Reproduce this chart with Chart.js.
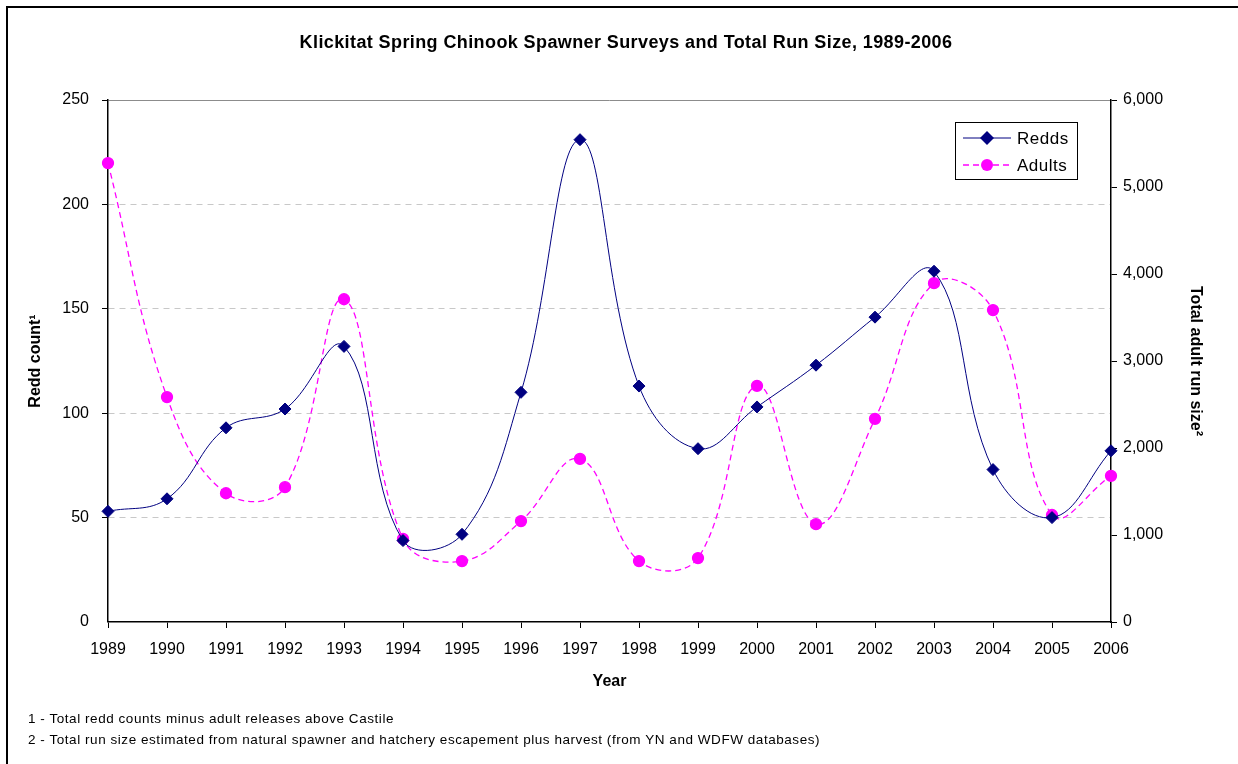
<!DOCTYPE html>
<html>
<head>
<meta charset="utf-8">
<script src="https://cdn.jsdelivr.net/npm/chart.js@4"></script>
<style>
  body { margin: 0; background: #fff; font-family: "Liberation Sans", Arial, sans-serif; }
  #wrap { position: relative; width: 1238px; height: 764px; overflow: hidden; }
  #frame { position: absolute; left: 6px; top: 6px; width: 1300px; height: 900px; border: 2px solid #000; }
  canvas { position: absolute; left: 0; top: 0; }
  .note { position: absolute; left: 28px; font-size: 13.5px; letter-spacing: 0.55px; color: #000; white-space: nowrap; }
</style>
</head>
<body>
<div id="wrap">
  <div id="frame"></div>
  <canvas id="chart" width="1238" height="764"></canvas>
  <div class="note" style="top:711px">1 - Total redd counts minus adult releases above Castile</div>
  <div class="note" style="top:732px">2 - Total run size estimated from natural spawner and hatchery escapement plus harvest (from YN and WDFW databases)</div>
</div>
<script>
// Survey years
const years = ["1989", "1990", "1991", "1992", "1993", "1994", "1995", "1996", "1997",
    "1998", "1999", "2000", "2001", "2002", "2003", "2004", "2005", "2006"];

// Redd counts (left axis)
const redds = [53, 59, 93, 102, 132, 39, 42, 110, 231, 113, 83, 103, 123, 146, 168, 73, 50, 82];

// Total adult run size (right axis)
const adults = [5275, 2585, 1480, 1550, 3710, 955, 700, 1160, 1875, 700, 735, 2715, 1125, 2335, 3895, 3585, 1230, 1680];

const chartTitle = "Klickitat Spring Chinook Spawner Surveys and Total Run Size, 1989-2006";

const FONT = "'Liberation Sans', Arial, sans-serif";

// title + boxed legend drawn on top of the chart
const decorations = {
    id: "decorations",
    afterDraw(chart) {
        const ctx = chart.ctx;
        ctx.save();
        ctx.fillStyle = "#000";
        ctx.font = "bold 18px " + FONT;
        ctx.letterSpacing = "0.4px";
        ctx.textAlign = "center";
        ctx.textBaseline = "middle";
        ctx.fillText(chartTitle, 626, 43);

        // legend box
        const bx = 955, by = 122, bw = 122, bh = 57;
        ctx.fillStyle = "#fff";
        ctx.fillRect(bx, by, bw, bh);
        ctx.strokeStyle = "#000";
        ctx.lineWidth = 1;
        ctx.setLineDash([]);
        ctx.strokeRect(bx + 0.5, by + 0.5, bw, bh);

        chart.data.datasets.forEach((ds, i) => {
            const y = by + 16 + i * 27;
            ctx.strokeStyle = ds.borderColor;
            ctx.lineWidth = ds.borderWidth;
            ctx.setLineDash(ds.borderDash || []);
            ctx.beginPath();
            ctx.moveTo(bx + 8, y);
            ctx.lineTo(bx + 56, y);
            ctx.stroke();
            ctx.setLineDash([]);
            ctx.fillStyle = ds.pointBackgroundColor;
            ctx.beginPath();
            if (ds.pointStyle === "rectRot") {
                const r = 7;
                ctx.moveTo(bx + 32, y - r);
                ctx.lineTo(bx + 32 + r, y);
                ctx.lineTo(bx + 32, y + r);
                ctx.lineTo(bx + 32 - r, y);
                ctx.closePath();
            } else {
                ctx.arc(bx + 32, y, 6, 0, Math.PI * 2);
            }
            ctx.fill();
            ctx.fillStyle = "#000";
            ctx.font = "17px " + FONT;
            ctx.letterSpacing = "0.5px";
            ctx.textAlign = "left";
            ctx.fillText(ds.label, bx + 62, y + 1);
        });
        ctx.restore();
    }
};

const gridDash = (c) => (c.tick && c.tick.value === 250 ? [] : [6, 5]);
const tickFont = { family: FONT, size: 16 };
const titleFont = { family: FONT, size: 16, weight: "bold" };

new Chart(document.getElementById("chart"), {
    type: "line",
    data: {
        labels: years,
        datasets: [
            {
                label: "Redds",
                data: redds,
                yAxisID: "y",
                borderColor: "#000080",
                backgroundColor: "#000080",
                pointBackgroundColor: "#000080",
                pointBorderColor: "#000080",
                pointStyle: "rectRot",
                pointRadius: 6,
                borderWidth: 1,
                tension: 0.4,
            },
            {
                label: "Adults",
                data: adults,
                yAxisID: "y2",
                borderColor: "#FF00FF",
                backgroundColor: "#FF00FF",
                pointBackgroundColor: "#FF00FF",
                pointBorderColor: "#FF00FF",
                pointStyle: "circle",
                pointRadius: 5.5,
                borderWidth: 1.3,
                borderDash: [6, 4],
                tension: 0.4,
            },
        ],
    },
    options: {
        responsive: false,
        animation: false,
        layout: { padding: { top: 100, left: 10, right: 10, bottom: 62 } },
        plugins: {
            legend: { display: false },
            title: { display: false },
            tooltip: { enabled: false },
        },
        scales: {
            x: {
                offset: false,
                grid: { drawOnChartArea: false, drawTicks: true, tickLength: 6, tickColor: "#000" },
                border: { color: "#000", width: 1.5 },
                ticks: { color: "#000", font: tickFont, padding: 12, maxRotation: 0, autoSkip: false },
                title: { display: true, text: "Year", color: "#000", font: titleFont, padding: { top: 0, bottom: 11 } },
                afterFit: (s) => { s.height = 80; },
            },
            y: {
                position: "left",
                min: 0,
                max: 250,
                ticks: { stepSize: 50, color: "#000", font: tickFont, padding: 13 },
                grid: {
                    color: (c) => (c.tick && c.tick.value === 250 ? "#8c8c8c" : "#c8c8c8"),
                    lineWidth: (c) => (c.tick && c.tick.value === 0 ? 0 : 1),
                    tickColor: "#000",
                    tickLength: 6,
                },
                border: { color: "#000", width: 1.5, dash: gridDash },
                title: { display: true, text: "Redd count¹", color: "#000", font: titleFont, padding: { top: 16, bottom: 0 } },
                afterFit: (s) => { s.width = 98; },
            },
            y2: {
                position: "right",
                min: 0,
                max: 6000,
                ticks: {
                    stepSize: 1000,
                    color: "#000",
                    font: tickFont,
                    padding: 6,
                    callback: (v) => v.toLocaleString("en-US"),
                },
                grid: { drawOnChartArea: false, tickColor: "#000", tickLength: 6 },
                border: { color: "#000", width: 1.5 },
                title: { display: true, text: "Total adult run size²", color: "#000", font: titleFont, padding: { top: 23, bottom: 0 } },
                afterFit: (s) => { s.width = 117; },
            },
        },
    },
    plugins: [decorations],
});
</script>
</body>
</html>
